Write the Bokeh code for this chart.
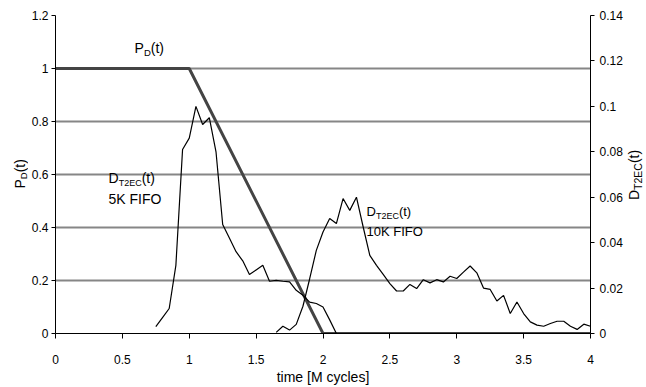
import math
from bokeh.plotting import figure
from bokeh.models import Range1d, LinearAxis, FixedTicker, Label
from bokeh.layouts import row
from bokeh.embed import file_html
from bokeh.resources import INLINE

# ---------------- data ----------------
x_ticks = [0, 0.5, 1, 1.5, 2, 2.5, 3, 3.5, 4]
x_tick_labels = ["0", "0.5", "1", "1.5", "2", "2.5", "3", "3.5", "4"]
pd_ticks = [0, 0.2, 0.4, 0.6, 0.8, 1.0, 1.2]
pd_tick_labels = ["0", "0.2", "0.4", "0.6", "0.8", "1", "1.2"]
dt_ticks = [0, 0.02, 0.04, 0.06, 0.08, 0.1, 0.12, 0.14]
dt_tick_labels = ["0", "0.02", "0.04", "0.06", "0.08", "0.1", "0.12", "0.14"]

pd_time = [0, 1, 2, 4]
pd_value = [1, 1, 0, 0]

d5k_time = [0.75, 0.80, 0.85, 0.90, 0.95, 1.00, 1.05, 1.10, 1.15, 1.20,
            1.25, 1.30, 1.35, 1.40, 1.45, 1.50, 1.55, 1.60, 1.65, 1.70,
            1.75, 1.80, 1.85, 1.90, 1.95, 2.00, 2.05, 2.10]
d5k_value = [0.003, 0.007, 0.011, 0.030, 0.081, 0.086, 0.100, 0.092, 0.095, 0.080,
             0.048, 0.042, 0.036, 0.032, 0.026, 0.028, 0.030, 0.023, 0.0234, 0.023,
             0.0227, 0.019, 0.0168, 0.0138, 0.0132, 0.0117, 0.006, 0.0]

d10k_time = [1.65, 1.70, 1.75, 1.80, 1.85, 1.90, 1.95, 2.00, 2.05, 2.10,
             2.15, 2.20, 2.25, 2.30, 2.35, 2.40, 2.45, 2.50, 2.55, 2.60,
             2.65, 2.70, 2.75, 2.80, 2.85, 2.90, 2.95, 3.00, 3.05, 3.10,
             3.15, 3.20, 3.25, 3.30, 3.35, 3.40, 3.45, 3.50, 3.55, 3.60,
             3.65, 3.70, 3.75, 3.80, 3.85, 3.90, 3.95, 4.00]
d10k_value = [0.0005, 0.0032, 0.0015, 0.004, 0.012, 0.024, 0.0366, 0.0447, 0.0506, 0.0484,
              0.0594, 0.0542, 0.0600, 0.0470, 0.0344, 0.0300, 0.0260, 0.0220, 0.0187, 0.0187,
              0.0216, 0.0198, 0.0237, 0.0223, 0.0237, 0.0227, 0.0252, 0.0242, 0.0270, 0.0297,
              0.0267, 0.0200, 0.0194, 0.0143, 0.0168, 0.0088, 0.0139, 0.0088, 0.0051, 0.0037,
              0.0032, 0.0044, 0.0054, 0.0054, 0.0032, 0.0018, 0.0041, 0.0032]

x_title = "time [M cycles]"

# ---------------- layout (pixels) ----------------
H = 387
LW, RW = 28, 20                 # side strips holding the rotated axis titles
MW = 646 - LW - RW              # main figure width
FL, FR, FT, FB = 55, 590, 15, 333   # frame edges in page pixels
FONT = "Liberation Sans"
BASE = 0.5                      # measured baseline offset of Label text (em)

p = figure(width=MW, height=H, output_backend="svg", toolbar_location=None,
           x_range=Range1d(0, 4), y_range=Range1d(0, 1.2),
           min_border_left=FL - LW, min_border_right=(LW + MW) - FR,
           min_border_top=FT, min_border_bottom=H - FB)
p.extra_y_ranges = {"dt": Range1d(0, 0.14)}
p.outline_line_color = None
p.background_fill_color = "white"
p.border_fill_color = "white"


def style_axis(ax, tick_out, standoff):
    ax.minor_tick_line_color = None
    ax.major_tick_in = 0
    ax.major_tick_out = tick_out
    ax.major_label_standoff = standoff
    ax.axis_line_color = "black"
    ax.major_tick_line_color = "black"
    ax.major_label_text_font = FONT
    ax.major_label_text_font_size = "12px"
    ax.major_label_text_color = "black"


# x axis
xa = p.xaxis[0]
xa.ticker = FixedTicker(ticks=x_ticks)
xa.major_label_overrides = dict(zip(x_ticks, x_tick_labels))
style_axis(xa, 5, 16)
xa.axis_label = x_title
xa.axis_label_text_font = FONT
xa.axis_label_text_font_size = "14px"
xa.axis_label_text_font_style = "normal"
xa.axis_label_text_color = "black"
xa.axis_label_standoff = 2

# left axis
ya = p.yaxis[0]
ya.ticker = FixedTicker(ticks=pd_ticks)
ya.major_label_overrides = dict(zip(pd_ticks, pd_tick_labels))
style_axis(ya, 4, 3)

# right axis
ra = LinearAxis(y_range_name="dt", ticker=FixedTicker(ticks=dt_ticks))
ra.major_label_overrides = dict(zip(dt_ticks, dt_tick_labels))
style_axis(ra, 4, 5)
p.add_layout(ra, "right")

# grid
p.xgrid.visible = False
p.ygrid.ticker = FixedTicker(ticks=pd_ticks)
p.ygrid.grid_line_color = "#868686"
p.ygrid.grid_line_width = 2

# series
p.line(pd_time, pd_value, line_color="#444444", line_width=3)
p.line(d5k_time, d5k_value, y_range_name="dt", line_color="black", line_width=1.2)
p.line(d10k_time, d10k_value, y_range_name="dt", line_color="black", line_width=1.2)


# ---------------- in-plot text ----------------
def dx(px):
    return (px - FL) / (FR - FL) * 4.0


def dy(py):
    return (FB - py) / (FB - FT) * 1.2


def lab(px, py, text, size):
    # py: wanted baseline position in page pixels
    p.add_layout(Label(x=dx(px), y=dy(py - BASE * size), text=text, text_font=FONT,
                       text_font_size=f"{size}px", text_color="black",
                       text_align="left", text_baseline="alphabetic"))


# P_D(t)
lab(134, 54, "P", 14)
lab(143.4, 57, "D", 9.5)
lab(150.3, 54, "(t)", 14)

# 5K FIFO
lab(108, 184, "D", 14)
lab(118.2, 187, "T2EC", 9)
lab(141.2, 184, "(t)", 14)
lab(108, 205, "5K FIFO", 14)

# 10K FIFO
lab(366, 217, "D", 13)
lab(375.4, 220, "T2EC", 9)
lab(398.4, 217, "(t)", 13)
lab(366, 237, "10K FIFO", 13)


# ---------------- side strips with rotated axis titles ----------------
def strip(width):
    # frame spans the same rows as the main frame; y data = page pixels from bottom
    s = figure(width=width, height=H, output_backend="svg", toolbar_location=None,
               x_range=Range1d(0, width), y_range=Range1d(H - FB, H - FT),
               x_axis_location=None, y_axis_location=None,
               min_border_left=0, min_border_right=0,
               min_border_top=FT, min_border_bottom=H - FB)
    s.outline_line_color = None
    s.grid.visible = False
    s.background_fill_color = "white"
    s.border_fill_color = "white"
    return s


A = math.pi / 2


def vtext(s, x0, bx, py, text, size):
    # bx: wanted baseline x in page pixels (text reads bottom to top)
    s.add_layout(Label(x=bx - BASE * size - x0, y=H - py, text=text, angle=A,
                       angle_units="rad", text_font=FONT, text_font_size=f"{size}px",
                       text_color="black", text_align="left",
                       text_baseline="alphabetic"))


left = strip(LW)
vtext(left, 0, 26.0, 188, "P", 14)
vtext(left, 0, 27.5, 178.7, "D", 9.5)
vtext(left, 0, 26.0, 171.8, "(t)", 14)

right = strip(RW)
x0r = LW + MW
vtext(right, x0r, 640.0, 199.5, "D", 14)
vtext(right, x0r, 642.5, 189.4, "T2EC", 10.5)
vtext(right, x0r, 640.0, 162.6, "(t)", 14)

layout = row(left, p, right, spacing=0)

open("out.html", "w").write(file_html(layout, INLINE))
